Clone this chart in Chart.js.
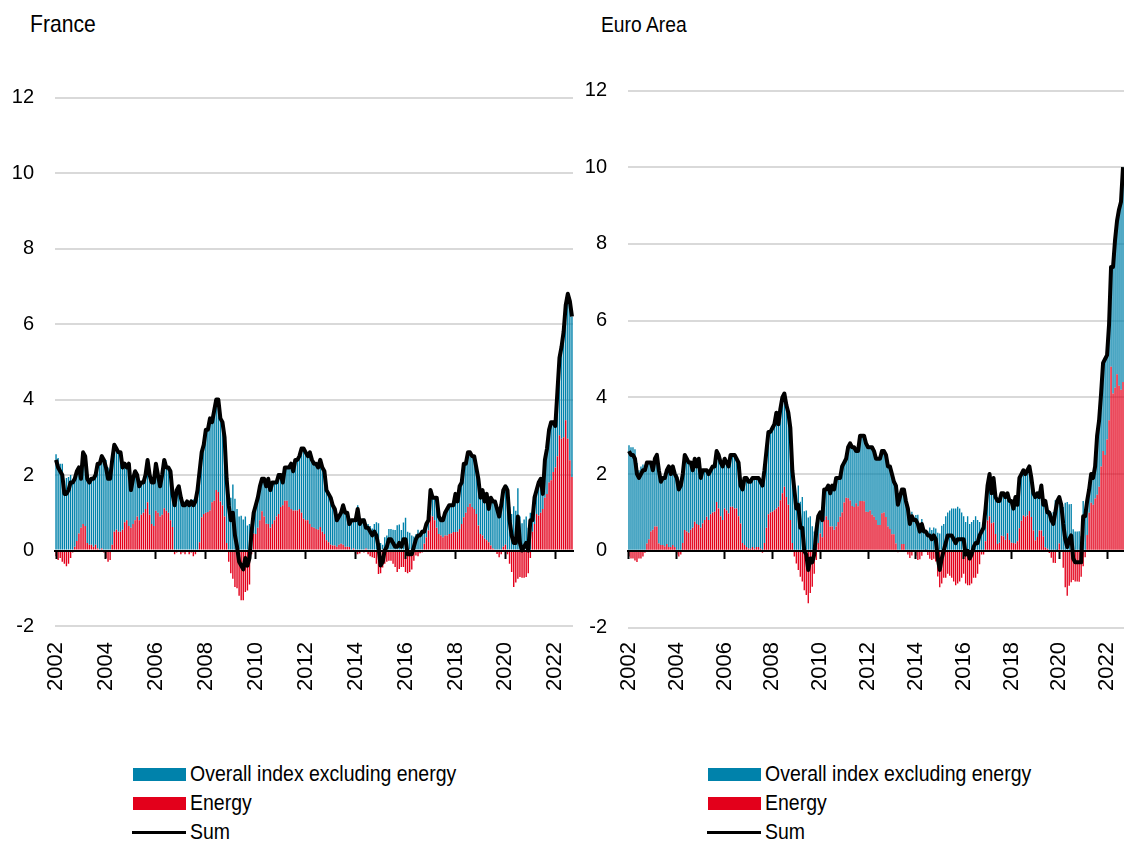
<!DOCTYPE html>
<html>
<head>
<meta charset="utf-8">
<script src="https://cdn.jsdelivr.net/npm/chart.js@4.4.1/dist/chart.umd.min.js"></script>
<style>
  html, body { margin: 0; padding: 0; background: #fff; }
  body { width: 1124px; height: 843px; position: relative; overflow: hidden;
         font-family: 'Liberation Sans', Arial, sans-serif; color: #000; }
  canvas { position: absolute; top: 0; }
  .title { position: absolute; line-height: 1; white-space: nowrap; transform-origin: 0 0; }
  .leg { position: absolute; font-size: 22px; line-height: 1; white-space: nowrap;
         transform: scaleX(0.885); transform-origin: 0 50%; }
  .sw { position: absolute; }
</style>
</head>
<body>
<div class="title" style="left:30px; top:12px; font-size:24px; transform: scaleX(0.88);">France</div>
<div class="title" style="left:601px; top:14px; font-size:22px; transform: scaleX(0.875);">Euro Area</div>

<canvas id="fr" width="590" height="720" style="left:0px;"></canvas>
<canvas id="ea" width="544" height="720" style="left:580px;"></canvas>

<div id="legFr"></div>
<div id="legEa"></div>

<script>
// ---------- categories / tick labels ----------
const startYear = 2002, endYear = 2022, endMonth = 9;
const months = [];
for (let y = startYear; y <= endYear; y++) {
  for (let m = 1; m <= 12; m++) {
    if (y === endYear && m > endMonth) break;
    months.push(y + '-' + String(m).padStart(2, '0'));
  }
}
const yearTicks = ['2002','2004','2006','2008','2010','2012','2014','2016','2018','2020','2022'];
const yTickValues = [-2, 0, 2, 4, 6, 8, 10, 12];
const seriesNames = ['Overall index excluding energy', 'Energy', 'Sum'];

// ---------- France ----------
const franceCore = [
 2.55,2.45,2.3,2.3,1.85,1.92,1.95,2.0,1.85,1.8,1.85,1.75,
 1.3,1.9,1.85,1.7,1.65,1.75,1.8,1.85,2.25,2.3,2.45,2.45,
 2.4,2.2,2.15,2.25,2.3,2.15,2.1,2.1,1.65,1.55,1.4,1.65,
 1.0,1.2,1.3,1.1,0.9,0.85,0.8,0.9,1.12,1.05,1.1,1.15,
 1.25,1.0,0.8,1.05,1.28,1.15,1.2,1.3,0.88,1.3,1.65,1.7,
 1.5,1.25,1.3,1.3,1.3,1.35,1.35,1.4,1.6,1.88,1.72,1.83,
 2.2,2.18,2.44,2.12,2.38,2.4,2.45,2.2,2.21,2.1,1.7,1.5,
 1.4,1.75,1.37,1.1,0.9,0.92,0.82,0.9,0.66,0.7,0.6,0.55,
 0.76,0.8,0.9,0.86,1.0,0.99,1.2,1.0,1.1,1.0,0.9,1.03,
 0.85,0.6,0.88,0.88,1.05,1.2,1.04,1.34,1.34,1.4,1.7,1.86,
 1.8,1.7,1.9,1.78,1.7,1.73,1.65,1.78,1.7,1.66,1.33,1.28,
 1.25,1.07,0.97,0.7,0.75,0.82,1.05,0.9,0.9,0.61,0.8,0.75,
 0.9,1.2,0.78,0.8,0.85,0.55,0.7,0.65,0.58,0.7,0.75,0.72,
 0.2,0.15,0.35,0.4,0.57,0.57,0.55,0.54,0.67,0.69,0.54,0.74,
 0.87,0.5,0.47,0.4,0.37,0.43,0.55,0.47,0.55,0.32,0.35,0.27,
 0.67,0.5,0.6,0.8,0.46,0.4,0.45,0.6,0.7,0.76,0.75,0.71,
 1.01,0.8,1.13,1.1,1.42,1.3,1.45,1.36,1.35,1.4,1.23,1.24,
 0.96,1.2,0.99,1.23,0.88,1.27,1.25,1.3,1.19,1.08,1.3,1.5,
 1.55,1.7,1.15,0.97,1.17,1.05,1.65,0.9,0.72,0.82,0.9,0.6,
 1.0,0.3,0.7,0.63,0.87,0.9,0.4,1.0,1.2,1.4,1.54,1.32,
 1.1,1.7,2.05,2.44,2.8,3.05,3.84,4.21,4.25
];
const franceEnergy = [
 -0.15,-0.25,-0.2,-0.3,-0.35,-0.42,-0.35,-0.2,-0.05,0.1,0.25,0.45,
 0.6,0.7,0.65,0.2,0.15,0.15,0.1,0.15,0.05,0.0,0.05,-0.05,
 -0.2,-0.3,-0.25,0.15,0.5,0.55,0.5,0.5,0.55,0.75,0.8,0.65,
 0.6,0.7,0.8,0.9,0.8,0.95,1.0,1.1,1.28,0.95,0.7,0.65,
 1.05,1.0,0.9,0.95,1.12,1.05,1.0,0.8,0.62,-0.1,-0.05,0.0,
 -0.1,-0.05,-0.1,0.0,-0.1,-0.05,-0.15,-0.1,0.0,0.22,0.88,0.97,
 1.0,1.02,1.06,1.28,1.32,1.6,1.55,1.3,1.19,0.9,0.2,-0.3,
 -0.6,-0.75,-0.97,-1.0,-1.2,-1.32,-1.32,-1.1,-1.06,-0.9,-0.1,0.45,
 0.44,0.6,0.8,1.04,0.9,0.71,0.7,0.6,0.7,0.8,0.9,0.97,
 1.15,1.2,1.32,1.32,1.15,1.1,1.06,1.06,1.06,1.1,1.0,0.84,
 0.8,0.8,0.7,0.62,0.6,0.57,0.55,0.62,0.5,0.44,0.27,0.22,
 0.15,0.13,0.13,0.1,0.15,0.18,0.15,0.1,0.1,0.09,0.0,0.05,
 -0.1,-0.1,-0.08,0.0,-0.05,0.05,-0.1,-0.15,-0.18,-0.2,-0.35,-0.62,
 -0.6,-0.45,-0.35,-0.3,-0.27,-0.27,-0.35,-0.44,-0.57,-0.49,-0.44,-0.44,
 -0.57,-0.6,-0.57,-0.5,-0.27,-0.13,-0.15,-0.07,-0.05,0.18,0.35,0.53,
 0.93,0.9,0.8,0.6,0.44,0.4,0.35,0.4,0.4,0.44,0.45,0.49,
 0.49,0.5,0.57,0.7,0.88,1.0,1.15,1.24,1.15,1.1,0.97,0.66,
 0.44,0.4,0.31,0.27,0.22,0.13,0.05,0.0,-0.09,-0.18,-0.1,0.1,
 0.15,-0.1,-0.35,-0.57,-0.97,-0.85,-0.75,-0.7,-0.72,-0.72,-0.7,-0.6,
 -0.2,0.5,0.7,0.97,0.93,1.0,1.1,1.4,1.5,1.8,1.86,2.08,
 2.2,2.5,3.05,2.96,3.0,3.45,2.96,2.39,1.95
];
const franceSum = [
 2.4,2.2,2.1,2.0,1.5,1.5,1.6,1.8,1.8,1.9,2.1,2.2,
 1.9,2.6,2.5,1.9,1.8,1.9,1.9,2.0,2.3,2.3,2.5,2.4,
 2.2,1.9,1.9,2.4,2.8,2.7,2.6,2.6,2.2,2.3,2.2,2.3,
 1.6,1.9,2.1,2.0,1.7,1.8,1.8,2.0,2.4,2.0,1.8,1.8,
 2.3,2.0,1.7,2.0,2.4,2.2,2.2,2.1,1.5,1.2,1.6,1.7,
 1.4,1.2,1.2,1.3,1.2,1.3,1.2,1.3,1.6,2.1,2.6,2.8,
 3.2,3.2,3.5,3.4,3.7,4.0,4.0,3.5,3.4,3.0,1.9,1.2,
 0.8,1.0,0.4,0.1,-0.3,-0.4,-0.5,-0.2,-0.4,-0.2,0.5,1.0,
 1.2,1.4,1.7,1.9,1.9,1.7,1.9,1.6,1.8,1.8,1.8,2.0,
 2.0,1.8,2.2,2.2,2.2,2.3,2.1,2.4,2.4,2.5,2.7,2.7,
 2.6,2.5,2.6,2.4,2.3,2.3,2.2,2.4,2.2,2.1,1.6,1.5,
 1.4,1.2,1.1,0.8,0.9,1.0,1.2,1.0,1.0,0.7,0.8,0.8,
 0.8,1.1,0.7,0.8,0.8,0.6,0.6,0.5,0.4,0.5,0.4,0.1,
 -0.4,-0.3,0.0,0.1,0.3,0.3,0.2,0.1,0.1,0.2,0.1,0.3,
 0.3,-0.1,-0.1,-0.1,0.1,0.3,0.4,0.4,0.5,0.5,0.7,0.8,
 1.6,1.4,1.4,1.4,0.9,0.8,0.8,1.0,1.1,1.2,1.2,1.2,
 1.5,1.3,1.7,1.8,2.3,2.3,2.6,2.6,2.5,2.5,2.2,1.9,
 1.4,1.6,1.3,1.5,1.1,1.4,1.3,1.3,1.1,0.9,1.2,1.6,
 1.7,1.6,0.8,0.4,0.2,0.2,0.9,0.2,0.0,0.1,0.2,0.0,
 0.8,0.8,1.4,1.6,1.8,1.9,1.5,2.4,2.7,3.2,3.4,3.4,
 3.3,4.2,5.1,5.4,5.8,6.5,6.8,6.6,6.2
];

// ---------- Euro Area ----------
const euroCore = [
 2.75,2.7,2.7,2.65,2.29,2.1,2.2,2.25,2.15,2.11,2.0,1.8,
 1.55,1.77,1.87,1.91,1.65,1.75,1.78,1.92,2.1,1.9,2.05,1.9,
 2.0,1.75,1.8,1.8,1.96,1.9,1.83,1.75,1.5,1.64,1.5,1.73,
 1.3,1.39,1.3,1.21,1.2,1.15,1.2,1.18,1.33,1.4,1.4,1.4,
 1.3,1.25,1.23,1.35,1.35,1.4,1.3,1.4,0.99,1.4,1.75,1.8,
 1.74,1.75,1.8,1.85,1.8,1.8,1.75,1.75,1.9,2.0,2.15,2.1,
 2.18,2.24,2.5,2.15,2.38,2.5,2.43,2.4,2.4,2.4,1.9,1.75,
 1.43,1.7,1.28,1.4,1.03,1.05,0.87,0.9,0.64,0.5,0.74,0.7,
 0.55,0.45,0.8,0.7,0.9,0.87,1.07,1.05,1.27,1.15,1.01,1.2,
 1.04,1.02,1.33,1.49,1.53,1.56,1.36,1.44,1.7,1.7,1.71,1.78,
 1.69,1.65,1.76,1.71,1.6,1.73,1.73,1.62,1.6,1.62,1.57,1.63,
 1.57,1.37,1.51,1.24,1.42,1.42,1.42,1.33,1.2,0.89,1.02,0.8,
 0.93,0.94,0.72,0.83,0.51,0.49,0.51,0.61,0.54,0.61,0.58,0.47,
 0.45,0.65,0.7,0.9,1.0,1.05,1.1,1.1,1.1,1.15,1.1,1.0,
 0.9,0.75,0.9,0.7,0.75,0.8,0.9,0.8,0.75,0.6,0.7,0.85,
 0.91,1.1,0.78,1.16,0.96,1.12,1.09,1.11,1.12,1.11,1.04,1.02,
 1.09,0.9,1.21,0.95,1.31,1.22,1.18,1.11,1.18,1.16,1.02,0.97,
 1.13,1.14,0.87,1.17,0.82,1.21,0.95,1.06,0.98,1.01,1.32,1.28,
 1.21,1.23,1.14,1.25,1.27,1.21,1.22,0.56,0.5,0.5,0.51,0.38,
 1.3,1.07,0.89,0.61,0.75,0.7,0.84,1.54,1.73,1.9,2.3,2.5,
 2.2,2.5,2.6,3.3,3.85,4.0,4.6,4.9,5.6
];
const euroEnergy = [
 -0.15,-0.2,-0.2,-0.25,-0.29,-0.2,-0.2,-0.15,-0.05,0.19,0.3,0.5,
 0.55,0.63,0.63,0.19,0.15,0.15,0.12,0.18,0.1,0.1,0.15,0.1,
 -0.1,-0.15,-0.1,0.2,0.54,0.5,0.47,0.55,0.6,0.76,0.7,0.67,
 0.6,0.71,0.8,0.89,0.8,0.95,1.0,1.02,1.27,1.1,0.9,0.8,
 1.1,1.05,0.97,1.15,1.15,1.1,1.1,0.9,0.71,0.2,0.15,0.1,
 0.06,0.05,0.1,0.05,0.1,0.1,0.05,-0.05,0.2,0.6,0.95,1.0,
 1.02,1.06,1.1,1.15,1.32,1.5,1.67,1.4,1.2,0.8,0.2,-0.15,
 -0.33,-0.5,-0.68,-0.8,-1.03,-1.15,-1.37,-1.1,-0.94,-0.6,-0.24,0.2,
 0.45,0.35,0.8,0.9,0.8,0.63,0.63,0.55,0.63,0.75,0.89,1.0,
 1.26,1.38,1.37,1.31,1.17,1.14,1.24,1.16,1.3,1.3,1.29,1.02,
 1.01,1.05,0.94,0.89,0.8,0.67,0.67,0.98,1.0,0.88,0.63,0.57,
 0.43,0.43,0.19,-0.04,-0.02,0.18,0.18,-0.03,-0.1,-0.19,-0.12,0.0,
 -0.13,-0.24,-0.22,-0.13,-0.01,0.01,-0.11,-0.21,-0.24,-0.21,-0.28,-0.67,
 -0.95,-0.85,-0.7,-0.7,-0.6,-0.65,-0.7,-0.8,-0.9,-0.85,-0.8,-0.7,
 -0.6,-0.85,-0.9,-0.9,-0.85,-0.7,-0.7,-0.6,-0.35,-0.1,-0.1,0.25,
 0.79,0.9,0.72,0.74,0.44,0.18,0.21,0.39,0.38,0.29,0.46,0.28,
 0.21,0.2,0.19,0.25,0.59,0.78,0.92,0.89,0.92,1.04,0.88,0.53,
 0.27,0.36,0.53,0.53,0.38,0.09,0.05,-0.06,-0.18,-0.31,-0.32,0.02,
 0.19,-0.03,-0.44,-0.95,-1.17,-0.91,-0.82,-0.76,-0.8,-0.8,-0.81,-0.68,
 -0.4,-0.17,0.41,0.99,1.25,1.2,1.36,1.46,1.67,2.2,2.6,2.5,
 2.9,3.4,4.8,4.1,4.25,4.6,4.3,4.2,4.4
];
const euroSum = [
 2.6,2.5,2.5,2.4,2.0,1.9,2.0,2.1,2.1,2.3,2.3,2.3,
 2.1,2.4,2.5,2.1,1.8,1.9,1.9,2.1,2.2,2.0,2.2,2.0,
 1.9,1.6,1.7,2.0,2.5,2.4,2.3,2.3,2.1,2.4,2.2,2.4,
 1.9,2.1,2.1,2.1,2.0,2.1,2.2,2.2,2.6,2.5,2.3,2.2,
 2.4,2.3,2.2,2.5,2.5,2.5,2.4,2.3,1.7,1.6,1.9,1.9,
 1.8,1.8,1.9,1.9,1.9,1.9,1.8,1.7,2.1,2.6,3.1,3.1,
 3.2,3.3,3.6,3.3,3.7,4.0,4.1,3.8,3.6,3.2,2.1,1.6,
 1.1,1.2,0.6,0.6,0.0,-0.1,-0.5,-0.2,-0.3,-0.1,0.5,0.9,
 1.0,0.8,1.6,1.6,1.7,1.5,1.7,1.6,1.9,1.9,1.9,2.2,
 2.3,2.4,2.7,2.8,2.7,2.7,2.6,2.6,3.0,3.0,3.0,2.8,
 2.7,2.7,2.7,2.6,2.4,2.4,2.4,2.6,2.6,2.5,2.2,2.2,
 2.0,1.8,1.7,1.2,1.4,1.6,1.6,1.3,1.1,0.7,0.9,0.8,
 0.8,0.7,0.5,0.7,0.5,0.5,0.4,0.4,0.3,0.4,0.3,-0.2,
 -0.5,-0.2,0.0,0.2,0.4,0.4,0.4,0.3,0.2,0.3,0.3,0.3,
 0.3,-0.1,0.0,-0.2,-0.1,0.1,0.2,0.2,0.4,0.5,0.6,1.1,
 1.7,2.0,1.5,1.9,1.4,1.3,1.3,1.5,1.5,1.4,1.5,1.3,
 1.3,1.1,1.4,1.2,1.9,2.0,2.1,2.0,2.1,2.2,1.9,1.5,
 1.4,1.5,1.4,1.7,1.2,1.3,1.0,1.0,0.8,0.7,1.0,1.3,
 1.4,1.2,0.7,0.3,0.1,0.3,0.4,-0.2,-0.3,-0.3,-0.3,-0.3,
 0.9,0.9,1.3,1.6,2.0,1.9,2.2,3.0,3.4,4.1,4.9,5.0,
 5.1,5.9,7.4,7.4,8.1,8.6,8.9,9.1,10.0
];

// ---------- styles ----------
const BLUE = '#0082ab';
const RED = '#e3001b';
const GRID = '#d9d9d9';
const FONT = "'Liberation Sans', Arial, sans-serif";

function yearLabel(i) {
  const s = months[i];
  if (!s) return '';
  const [yy, mm] = s.split('-');
  return (mm === '01' && yearTicks.includes(yy)) ? yy : '';
}

function makeChart(id, core, energy, sum, geo) {
  const ctx = document.getElementById(id).getContext('2d');
  return new Chart(ctx, {
    type: 'bar',
    data: {
      labels: months,
      datasets: [
        { type: 'line', label: seriesNames[2], data: sum, borderColor: '#000', backgroundColor: '#000',
          borderWidth: 4, pointRadius: 0, tension: 0, fill: false, order: 0, stack: 'sum',
          borderJoinStyle: 'round', xAxisID: 'x', yAxisID: 'y' },
        { label: seriesNames[1], data: energy, backgroundColor: RED, borderWidth: 0,
          barPercentage: 0.68, categoryPercentage: 1.0, order: 1, stack: 'bars', xAxisID: 'x', yAxisID: 'y' },
        { label: seriesNames[0], data: core, backgroundColor: BLUE, borderWidth: 0,
          barPercentage: 0.68, categoryPercentage: 1.0, order: 1, stack: 'bars', xAxisID: 'x', yAxisID: 'y' }
      ]
    },
    options: {
      responsive: false,
      animation: false,
      devicePixelRatio: 1,
      layout: { padding: { top: geo.top, right: geo.right, left: 0, bottom: 0 } },
      plugins: { legend: { display: false }, tooltip: { enabled: false }, title: { display: false } },
      scales: {
        x: {
          type: 'category', stacked: true, offset: true,
          grid: { display: false, drawTicks: false },
          border: { display: false },
          ticks: {
            autoSkip: false, maxRotation: 90, minRotation: 90, padding: geo.xPad,
            color: '#000', font: { family: FONT, size: 22 },
            callback: (v, i) => yearLabel(i)
          },
          afterFit: s => { s.height = geo.xHeight; s.paddingLeft = 0; s.paddingRight = 0; }
        },
        x0: {
          type: 'category', offset: true, position: { y: 0 },
          grid: {
            display: true, drawOnChartArea: false, drawTicks: true, tickLength: 7, tickWidth: 2,
            offset: false, z: 2,
            tickColor: c => yearLabel(c.index) ? '#000' : 'rgba(0,0,0,0)'
          },
          border: { display: true, color: '#000', width: 2, z: 2 },
          ticks: { display: false, autoSkip: false },
          afterFit: s => { s.height = 0; s.paddingLeft = 0; s.paddingRight = 0; }
        },
        y: {
          stacked: true, min: -2, max: 12,
          afterBuildTicks: s => { s.ticks = yTickValues.map(v => ({ value: v })); },
          grid: { color: GRID, lineWidth: 2, drawTicks: false },
          border: { display: false },
          ticks: { padding: geo.yPad, color: '#000', font: { family: FONT, size: 20 } },
          afterFit: s => { s.width = geo.yWidth; s.paddingTop = 0; s.paddingBottom = 0; }
        }
      }
    }
  });
}

makeChart('fr', franceCore, franceEnergy, franceSum,
  { top: 97.5, right: 17, xHeight: 94, xPad: 16, yWidth: 55, yPad: 21 });
makeChart('ea', euroCore, euroEnergy, euroSum,
  { top: 90.5, right: 0, xHeight: 92.5, xPad: 14.5, yWidth: 48, yPad: 21 });

// ---------- legends (HTML text) ----------
function buildLegend(el, left) {
  const items = [
    { name: seriesNames[0], kind: 'box', color: BLUE, cy: 774 },
    { name: seriesNames[1], kind: 'box', color: RED, cy: 803 },
    { name: seriesNames[2], kind: 'line', color: '#000', cy: 832 }
  ];
  items.forEach(it => {
    const sw = document.createElement('div');
    sw.className = 'sw';
    if (it.kind === 'box') {
      sw.style.cssText = `left:${left}px; top:${it.cy - 6.5}px; width:53px; height:13px; background:${it.color};`;
    } else {
      sw.style.cssText = `left:${left - 1}px; top:${it.cy - 1.5}px; width:54px; height:3px; background:${it.color};`;
    }
    el.appendChild(sw);
    const tx = document.createElement('div');
    tx.className = 'leg';
    tx.textContent = it.name;
    tx.style.left = (left + 57) + 'px';
    tx.style.top = (it.cy - 11) + 'px';
    el.appendChild(tx);
  });
}
buildLegend(document.getElementById('legFr'), 133);
buildLegend(document.getElementById('legEa'), 708);
</script>
</body>
</html>
